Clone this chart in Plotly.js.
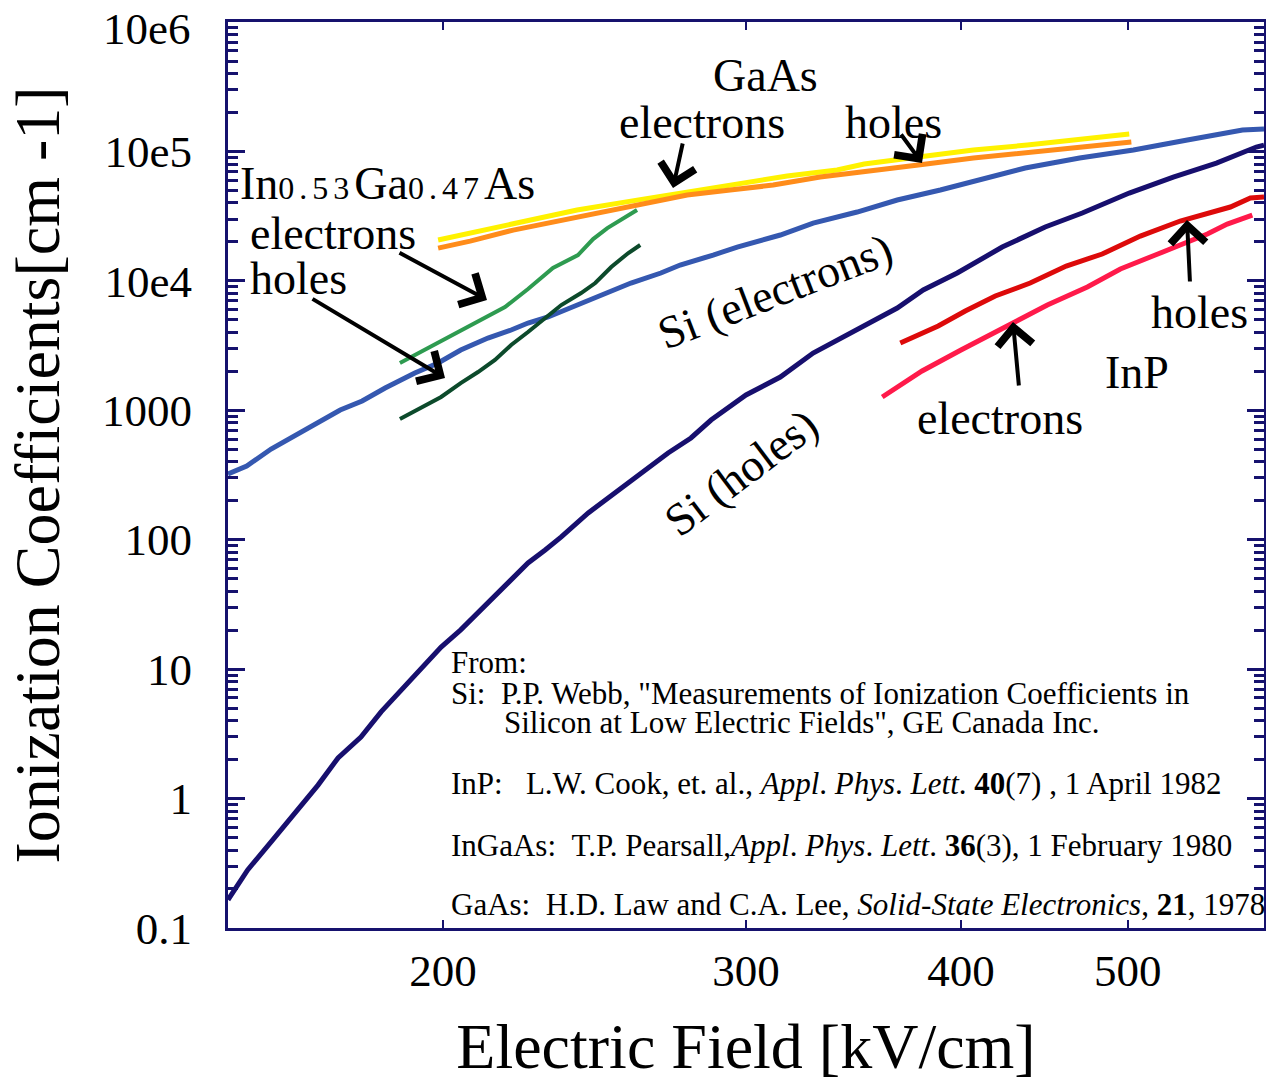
<!DOCTYPE html>
<html>
<head>
<meta charset="utf-8">
<script src="https://cdn.plot.ly/plotly-3.0.1.min.js"></script>
<style>html,body{margin:0;padding:0;background:#fff;}</style>
</head>
<body>
<div id="chart" style="width:1266px;height:1082px;"></div>
<script>
// ---- Data (Electric field in kV/cm, ionization coefficient in cm^-1) ----
const siElecField = [150, 153.8, 158.9, 164.1, 169, 174.3, 179.5, 185.1, 192.6, 198.7, 204.8, 212.4, 219.1, 224.1, 230.2, 239.6, 248.4, 257.2, 267.7, 274.7, 287.1, 296.5, 314.1, 328.2, 348.1, 367.3, 389.1, 410.5, 435.9, 468.8, 503.8, 541.5, 583, 600];
const siElecAlpha = [322, 371, 502, 644, 798, 1005, 1180, 1486, 1942, 2320, 2923, 3618, 4172, 4724, 5258, 6509, 8058, 9627, 11500, 13260, 15840, 18260, 22610, 27990, 34040, 42140, 50350, 60150, 74470, 88960, 102600, 122500, 146400, 149000];

const siHoleField = [150, 154, 158.9, 164.1, 169.2, 173.8, 179.2, 184.1, 189.1, 194.2, 199.5, 204.8, 209.6, 214.4, 219.1, 224.1, 229.3, 234.3, 242.9, 249.5, 256.3, 264.2, 270.3, 278.7, 286.3, 300, 314.1, 328.2, 348.1, 367.3, 380.3, 398, 422.7, 447.7, 470.5, 501, 531.4, 563, 593.9, 600];
const siHoleAlpha = [0.165, 0.281, 0.462, 0.788, 1.27, 2.06, 2.99, 4.67, 6.9, 10.0, 14.8, 20.1, 27.2, 37.4, 48.9, 66.1, 83.3, 105, 161, 211, 272, 378, 468, 611, 841, 1313, 1808, 2771, 4172, 6170, 8501, 11500, 18260, 26070, 33440, 47730, 63440, 81420, 108200, 112100];

const gaasElecField = [198.7, 207.4, 219.7, 231.7, 245.2, 259.3, 277.3, 293.7, 311.1, 331.3, 351.4, 377.8, 406.7, 437.1, 470.5, 502.4];
const gaasElecAlpha = [17900, 20300, 24700, 28500, 32900, 38600, 46100, 50400, 55000, 63400, 69400, 78600, 89000, 99000, 108200, 118300];

const gaasHoleField = [198.7, 207.4, 221.7, 239.3, 259.3, 277.3, 296.5, 317, 338.9, 351.4, 377.8, 406.7, 437.1, 470.5, 501];
const gaasHoleAlpha = [20700, 23400, 28500, 35300, 42100, 48600, 57000, 64600, 71900, 80000, 90600, 102600, 112100, 124700, 136300];

const ingaasElecField = [188.8, 192.6, 198.7, 204.1, 210.4, 217.3, 224.1, 231.7, 239.6, 244.5, 249.2, 254.2, 259.3];
const ingaasElecAlpha = [2320, 2670, 3370, 4100, 4990, 6280, 8650, 12570, 15840, 21050, 25600, 30060, 35270];

const ingaasHoleField = [188.8, 194.2, 199.5, 204.8, 209.6, 214.4, 219.1, 224.1, 229.3, 234.3, 240.6, 245.2, 250.5, 256.3, 260.4];
const ingaasHoleAlpha = [856, 1041, 1267, 1624, 1976, 2447, 3194, 4026, 5164, 6509, 8058, 9627, 12800, 16420, 18930];

const inpHoleField = [368.8, 388, 402.3, 418.8, 438.8, 460.5, 483.2, 508.5, 536.4, 561.5, 573.6, 589.2, 600];
const inpHoleAlpha = [3311, 4479, 5850, 7638, 9627, 13020, 16130, 22210, 29010, 34650, 37220, 43670, 44450];

const inpElecField = [360, 379.7, 400, 417.7, 430.2, 449, 473.7, 495.1, 518.8, 537.9, 556.2, 571.2, 590.7];
const inpElecAlpha = [1267, 2012, 2923, 3956, 4896, 6509, 8967, 12350, 15840, 19270, 23020, 27500, 32270];

const xTickVals = [200, 300, 400, 500];
const xTickText = ['200', '300', '400', '500'];
const yTickVals = [0.1, 1, 10, 100, 1000, 1e4, 1e5, 1e6];
const yTickText = ['0.1', '1', '10', '100', '1000', '10e4', '10e5', '10e6'];

// ---- Styling ----
const FONT = 'Liberation Serif';
const AXIS = '#16126e';

function line(x, y, color, width) {
  return {x: x, y: y, type: 'scatter', mode: 'lines', line: {color: color, width: width},
          hoverinfo: 'skip', showlegend: false};
}

const traces = [
  line(siElecField, siElecAlpha, '#3558b0', 5),
  line(siHoleField, siHoleAlpha, '#170f6e', 5),
  line(ingaasElecField, ingaasElecAlpha, '#2e9b50', 4),
  line(ingaasHoleField, ingaasHoleAlpha, '#0c4a2b', 4),
  line(gaasHoleField, gaasHoleAlpha, '#fff200', 5),
  line(gaasElecField, gaasElecAlpha, '#ff8c1a', 5),
  line(inpHoleField, inpHoleAlpha, '#dd0a0a', 5),
  line(inpElecField, inpElecAlpha, '#ff1a4a', 5)
];

// minor tick positions for the log y axis
const minorVals = [];
for (let k = -1; k < 6; k++) for (let m = 2; m <= 9; m++) minorVals.push(m * Math.pow(10, k));

// the top tick label sits at the very top edge; it is drawn as an annotation slightly lower
const yTickTextAxis = yTickText.map((t, i) => (i === yTickText.length - 1 ? '' : t));

// pixel -> paper helpers for annotation placement
const L = 228, R = 1264, T = 22, B = 928;
const px = v => (v - L) / (R - L);
const py = v => (B - v) / (B - T);

function label(text, x, y, size, angle, anchor) {
  return {text: text, xref: 'paper', yref: 'paper', x: px(x), y: py(y), showarrow: false,
          xanchor: anchor || 'center', yanchor: 'middle', textangle: angle || 0,
          font: {family: FONT, size: size || 46, color: '#000'}};
}
function arrow(tipX, tipY, tailX, tailY) {
  return {text: '', xref: 'paper', yref: 'paper', x: px(tipX), y: py(tipY),
          ax: tailX - tipX, ay: tailY - tipY, showarrow: true, arrowhead: 4,
          arrowsize: 1.7, arrowwidth: 4, arrowcolor: '#000', standoff: 0, startstandoff: 0};
}

const NB = '\u00a0';
const REF = 31;
const annotations = [
  label(yTickText[yTickText.length - 1], 192, 29, 45, 0, 'right'),
  label('GaAs', 765, 76),
  label('electrons', 702, 122),
  label('holes', 893, 122),
  label('In<span style="font-size:32px;letter-spacing:5px">0.53</span>Ga<span style="font-size:32px;letter-spacing:5px">0.47</span>As', 387, 183),
  label('electrons', 333, 234),
  label('holes', 298, 278),
  label('Si (electrons)', 775, 292, 46, -21),
  label('Si (holes)', 741, 472, 46, -37),
  label('holes', 1199, 312),
  label('InP', 1137, 372),
  label('electrons', 1000, 418),
  arrow(673, 188, 683, 142),
  arrow(922, 163, 900, 133),
  arrow(487, 300, 398, 252),
  arrow(445, 378, 311, 298),
  arrow(1187, 220, 1190, 283),
  arrow(1013, 322, 1019, 387),
  label('From:', 449, 662, REF, 0, 'left'),
  label('Si:' + NB + NB + 'P.P. Webb, "Measurements of Ionization Coefficients in', 449, 693, REF, 0, 'left'),
  label('Silicon at Low Electric Fields", GE Canada Inc.', 502, 722, REF, 0, 'left'),
  label('InP:' + NB + NB + NB + 'L.W. Cook, et. al., <i>Appl</i>. <i>Phys</i>. <i>Lett</i>. <b>40</b>(7) , 1 April 1982', 449, 783, REF, 0, 'left'),
  label('InGaAs:' + NB + NB + 'T.P. Pearsall,<i>Appl</i>. <i>Phys</i>. <i>Lett</i>. <b>36</b>(3), 1 February 1980', 449, 845, REF, 0, 'left'),
  label('GaAs:' + NB + NB + 'H.D. Law and C.A. Lee, <i>Solid-State Electronics</i>, <b>21</b>, 1978', 449, 904, REF, 0, 'left')
];

const layout = {
  width: 1266, height: 1082,
  margin: {l: 228, r: 2, t: 22, b: 154, pad: 0},
  paper_bgcolor: '#fff', plot_bgcolor: '#fff',
  font: {family: FONT, color: '#000'},
  showlegend: false,
  xaxis: {
    type: 'log', range: [Math.log10(150), Math.log10(600)],
    tickmode: 'array', tickvals: xTickVals, ticktext: xTickText,
    ticks: 'inside', ticklen: 8, tickwidth: 2, tickcolor: AXIS,
    showline: true, linecolor: AXIS, linewidth: 3, mirror: 'ticks',
    showgrid: false, zeroline: false,
    tickfont: {family: FONT, size: 45, color: '#000'},
    ticklabelstandoff: 1,
    title: {text: 'Electric Field [kV/cm]', font: {family: FONT, size: 64, color: '#000'}, standoff: 38}
  },
  yaxis: {
    type: 'log', range: [-1.0005, 6.0005],
    tickmode: 'array', tickvals: yTickVals, ticktext: yTickTextAxis,
    ticks: 'inside', ticklen: 17, tickwidth: 3, tickcolor: AXIS,
    minor: {tickmode: 'array', tickvals: minorVals, ticks: 'inside', ticklen: 10, tickwidth: 3, tickcolor: AXIS, showgrid: false},
    showline: true, linecolor: AXIS, linewidth: 3, mirror: 'ticks',
    showgrid: false, zeroline: false,
    tickfont: {family: FONT, size: 45, color: '#000'},
    ticklabelstandoff: 24,
    title: {text: 'Ionization Coefficients[cm -1]', font: {family: FONT, size: 64, color: '#000'}, standoff: 22}
  },
  annotations: annotations
};

Plotly.newPlot('chart', traces, layout, {displayModeBar: false, staticPlot: true});
</script>
</body>
</html>
